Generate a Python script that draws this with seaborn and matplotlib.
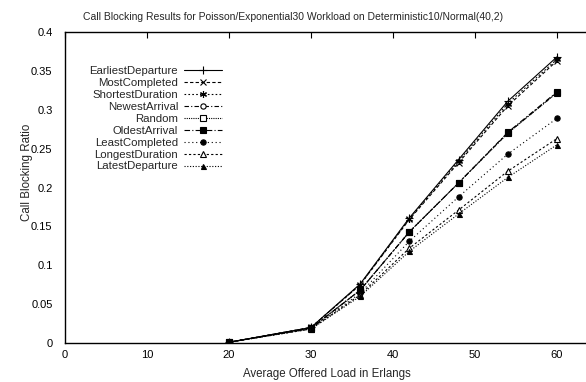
import matplotlib
matplotlib.use("Agg")
import matplotlib.pyplot as plt
import seaborn as sns
import pandas as pd
from matplotlib.ticker import FormatStrFormatter

sns.set_theme(style="white")
plt.rcParams['font.family'] = ['Liberation Sans', 'DejaVu Sans']

loads = [20, 30, 36, 42, 48, 54, 60]
earliest_departure = [0.001, 0.020, 0.076, 0.161, 0.236, 0.311, 0.368]
most_completed = [0.001, 0.020, 0.075, 0.159, 0.232, 0.305, 0.363]
shortest_duration = [0.001, 0.020, 0.075, 0.160, 0.234, 0.308, 0.365]
newest_arrival = [0.001, 0.019, 0.068, 0.143, 0.206, 0.270, 0.322]
random_policy = [0.001, 0.019, 0.068, 0.143, 0.206, 0.270, 0.322]
oldest_arrival = [0.001, 0.019, 0.068, 0.143, 0.206, 0.271, 0.323]
least_completed = [0.001, 0.019, 0.064, 0.131, 0.188, 0.243, 0.289]
longest_duration = [0.001, 0.018, 0.062, 0.122, 0.171, 0.221, 0.263]
latest_departure = [0.001, 0.018, 0.060, 0.118, 0.166, 0.213, 0.255]

series_names = ["EarliestDeparture", "MostCompleted", "ShortestDuration",
                "NewestArrival", "Random", "OldestArrival", "LeastCompleted",
                "LongestDuration", "LatestDeparture"]
series_values = [earliest_departure, most_completed, shortest_duration,
                 newest_arrival, random_policy, oldest_arrival,
                 least_completed, longest_duration, latest_departure]

x_ticks = [0, 10, 20, 30, 40, 50, 60]
y_ticks = [0, 0.05, 0.1, 0.15, 0.2, 0.25, 0.3, 0.35, 0.4]

rows = []
for name, vals in zip(series_names, series_values):
    for x, v in zip(loads, vals):
        rows.append({"load": x, "ratio": v, "policy": name})
df = pd.DataFrame(rows)

styles = {
    "EarliestDeparture": dict(ls="-", marker="+", mfc="black", ms=5.5),
    "MostCompleted": dict(ls=(0, (3, 2)), marker="x", mfc="black", ms=4),
    "ShortestDuration": dict(ls=(0, (1.5, 2)), marker=(6, 2, 0), mfc="black", ms=5),
    "NewestArrival": dict(ls=(0, (4, 2, 1, 2)), marker="o", mfc="white", ms=3.8),
    "Random": dict(ls=(0, (1, 1)), marker="s", mfc="white", ms=3.8),
    "OldestArrival": dict(ls=(0, (5, 2, 1, 2)), marker="s", mfc="black", ms=4.6),
    "LeastCompleted": dict(ls=(0, (1, 2.5)), marker="o", mfc="black", ms=3.8),
    "LongestDuration": dict(ls=(0, (2, 2)), marker="^", mfc="white", ms=4),
    "LatestDeparture": dict(ls=(0, (1, 1.5)), marker="^", mfc="black", ms=3.6),
}

fig = plt.figure(figsize=(5.86, 3.82), dpi=100)
ax = fig.add_axes([65 / 586, 39 / 382, 524 / 586, 311 / 382])

for name in series_names:
    st = styles[name]
    sub = df[df["policy"] == name]
    sns.lineplot(data=sub, x="load", y="ratio", ax=ax, color="black",
                 linewidth=0.8, linestyle=st["ls"], marker=st["marker"],
                 markerfacecolor=st["mfc"], markeredgecolor="black",
                 markersize=st["ms"], markeredgewidth=0.8, label=name,
                 legend=False)

ax.set_xlim(0, 63.9)
ax.set_ylim(0, 0.4)
ax.set_xticks(x_ticks)
ax.set_yticks(y_ticks)
ax.yaxis.set_major_formatter(FormatStrFormatter('%g'))
ax.tick_params(direction="in", length=4, width=0.8, labelsize=8,
               top=True, right=False, colors="black")
ax.tick_params(axis="y", pad=9)
ax.tick_params(axis="x", pad=5)
for sp in ax.spines.values():
    sp.set_color("black")
    sp.set_linewidth(1.0)

ax.set_xlabel("Average Offered Load in Erlangs", fontsize=8.3, labelpad=6)
ax.set_ylabel("Call Blocking Ratio", fontsize=8.3)
ax.yaxis.set_label_coords(33 / 586, (382 - 172) / 382, transform=fig.transFigure)
fig.text(0.5, 0.955, "Call Blocking Results for Poisson/Exponential30 Workload on Deterministic10/Normal(40,2)",
         ha="center", va="center", fontsize=7.5)

handles, labels = ax.get_legend_handles_labels()
leg = ax.legend(handles, labels, loc="upper right",
                frameon=False, markerfirst=False, fontsize=8.2,
                handlelength=3.3, handletextpad=0.55, labelspacing=0.17,
                borderpad=0, borderaxespad=0)
leg.set_bbox_to_anchor((222 / 586, (382 - 66) / 382), transform=fig.transFigure)

fig.savefig("out.png", dpi=100)
